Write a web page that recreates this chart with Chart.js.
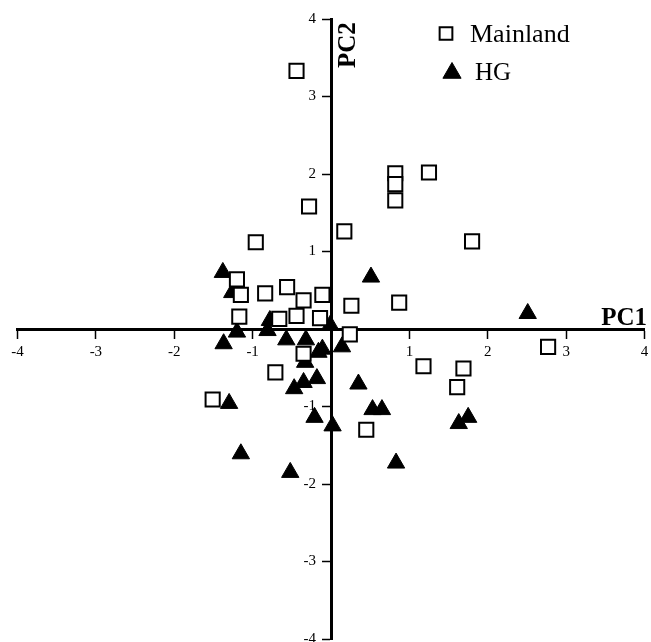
<!DOCTYPE html>
<html>
<head>
<meta charset="utf-8">
<script src="https://cdn.jsdelivr.net/npm/chart.js@4/dist/chart.umd.min.js"></script>
<style>
  html, body { margin: 0; padding: 0; background: #fff; }
  canvas { display: block; }
</style>
</head>
<body>
<canvas id="pcaChart" width="651" height="642"></canvas>
<script>
// PC scores
const mainlandPC1 = [-0.44, 0.82, 0.82, 0.82, 1.25, -0.28, 0.17, 1.80, -0.96, -1.20, -1.15, -0.84, -0.56, -0.35, -0.11, 0.26, 0.87, -1.17, -0.66, -0.44, -0.14, 0.24, 2.77, 1.18, 1.69, 1.61, -0.71, -0.35, -1.51, 0.45];
const mainlandPC2 = [3.33, 2.01, 1.87, 1.66, 2.02, 1.58, 1.26, 1.13, 1.12, 0.64, 0.44, 0.46, 0.54, 0.37, 0.44, 0.30, 0.34, 0.16, 0.13, 0.17, 0.14, -0.07, -0.23, -0.48, -0.51, -0.75, -0.56, -0.32, -0.91, -1.30];
const hgPC1 = [-1.38, -1.26, 0.51, -1.20, -1.37, -0.81, -0.78, -0.57, -0.32, -0.11, -0.16, -0.01, 0.14, -0.33, -0.18, -0.35, -0.47, 0.35, -1.30, -0.21, 0.02, 0.53, 0.65, -1.15, -0.52, 0.83, 2.51, 1.75, 1.63];
const hgPC2 = [0.73, 0.47, 0.67, -0.04, -0.19, -0.02, 0.11, -0.14, -0.14, -0.26, -0.30, 0.05, -0.23, -0.43, -0.64, -0.69, -0.77, -0.71, -0.96, -1.14, -1.25, -1.04, -1.04, -1.61, -1.85, -1.73, 0.20, -1.14, -1.22];
const axisMin = -4;
const axisMax = 4;
const groupNames = ["Mainland", "HG"];

const toPoints = (xs, ys) => xs.map((x, i) => ({ x: x, y: ys[i] }));
const serif = "'Liberation Serif', 'DejaVu Serif', serif";

// axis names + legend drawn by hand (the axes cross in the middle)
const extras = {
  id: "extras",
  afterDraw(chart) {
    const ctx = chart.ctx;
    ctx.save();
    ctx.fillStyle = "#000";
    ctx.font = "bold 25px " + serif;
    ctx.textAlign = "right";
    ctx.textBaseline = "alphabetic";
    ctx.fillText("PC1", 647, 325);

    ctx.translate(355, 68);
    ctx.rotate(-Math.PI / 2);
    ctx.textAlign = "left";
    ctx.fillText("PC2", 0, 0);
    ctx.restore();

    // legend
    const rows = [
      { y: 33.5, markerX: 446, textX: 470, base: 42, size: 26 },
      { y: 73, markerX: 452, textX: 475, base: 80, size: 25 }
    ];
    chart.data.datasets.forEach((ds, i) => {
      const r = rows[i];
      ctx.save();
      ctx.fillStyle = ds.backgroundColor;
      ctx.strokeStyle = ds.borderColor;
      ctx.lineWidth = ds.borderWidth;
      Chart.helpers.drawPoint(ctx, {
        pointStyle: ds.pointStyle,
        radius: i === 0 ? 9 : 10.5,
        rotation: 0,
        borderWidth: ds.borderWidth
      }, r.markerX, r.y);
      ctx.fillStyle = "#000";
      ctx.font = r.size + "px " + serif;
      ctx.textAlign = "left";
      ctx.fillText(ds.label, r.textX, r.base);
      ctx.restore();
    });
  }
};

const hideZero = (v) => (v === 0 ? "" : String(v));
// centred y axis puts labels right on the axis line, so pad them on the right
const yLabel = (v) => (v === 0 ? "" : v + "\u2007  ");
// the label overhang of centred scales would otherwise shrink the plot area
const noOverhang = (s) => {
  s.paddingLeft = 0;
  s.paddingRight = 0;
  s.paddingTop = 0;
  s.paddingBottom = 0;
};

new Chart(document.getElementById("pcaChart"), {
  type: "scatter",
  data: {
    datasets: [
      {
        label: groupNames[0],
        data: toPoints(mainlandPC1, mainlandPC2),
        pointStyle: "rect",
        pointRadius: 10,
        backgroundColor: "#fff",
        borderColor: "#000",
        borderWidth: 2
      },
      {
        label: groupNames[1],
        data: toPoints(hgPC1, hgPC2),
        pointStyle: "triangle",
        pointRadius: 10,
        backgroundColor: "#000",
        borderColor: "#000",
        borderWidth: 1
      }
    ]
  },
  options: {
    responsive: false,
    animation: false,
    devicePixelRatio: 1,
    layout: { autoPadding: false, padding: { left: 17.5, right: 6.5, top: 19, bottom: 3 } },
    plugins: {
      legend: { display: false },
      tooltip: { enabled: false }
    },
    scales: {
      x: {
        type: "linear",
        position: { y: 0 },
        min: axisMin,
        max: axisMax,
        afterFit: noOverhang,
        border: { color: "#000", width: 3 },
        grid: { drawOnChartArea: false, drawTicks: true, tickLength: 8, tickWidth: 1.5, tickColor: "#000" },
        ticks: {
          stepSize: 1,
          padding: 6,
          color: "#000",
          font: { family: serif, size: 15 },
          callback: hideZero
        }
      },
      y: {
        type: "linear",
        position: { x: 0 },
        min: axisMin,
        max: axisMax,
        afterFit: noOverhang,
        border: { color: "#000", width: 3 },
        grid: { drawOnChartArea: false, drawTicks: true, tickLength: 8, tickWidth: 1.5, tickColor: "#000" },
        ticks: {
          stepSize: 1,
          color: "#000",
          font: { family: serif, size: 15 },
          callback: yLabel
        }
      }
    }
  },
  plugins: [extras]
});
</script>
</body>
</html>
